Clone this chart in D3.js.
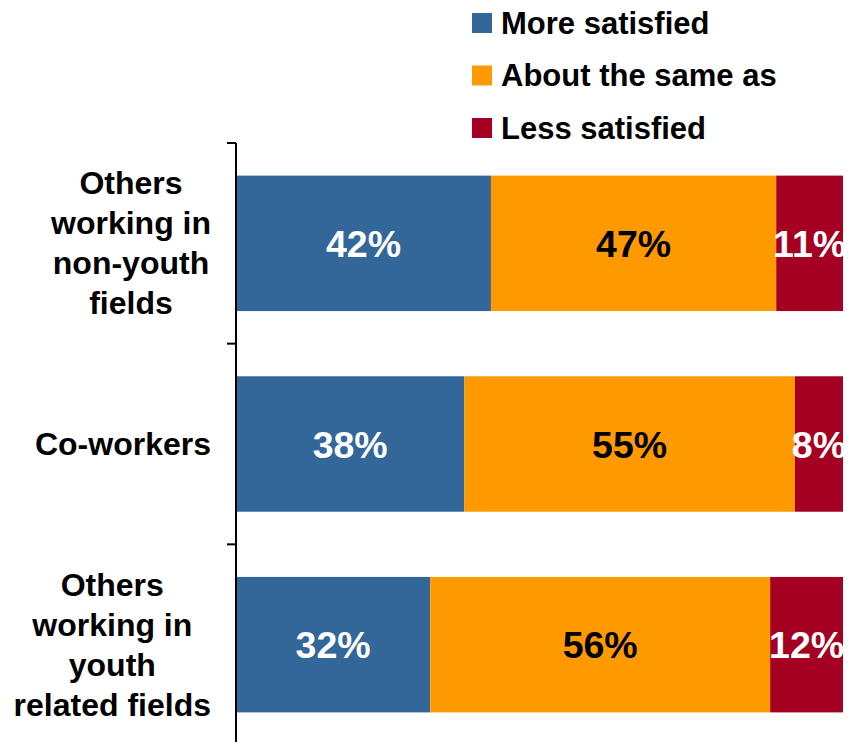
<!DOCTYPE html>
<html>
<head>
<meta charset="utf-8">
<script src="https://cdn.jsdelivr.net/npm/d3@7"></script>
<style>
  html, body { margin: 0; padding: 0; background: #fff; }
  svg { display: block; font-family: "Liberation Sans", Arial, sans-serif; font-weight: bold; }
</style>
</head>
<body>
<svg id="chart" width="853" height="742"></svg>
<script>
// Data
const categories = [
  ["Others", "working in", "non-youth", "fields"],
  ["Co-workers"],
  ["Others", "working in", "youth", "related fields"]
];
const seriesNames = ["More satisfied", "About the same as", "Less satisfied"];
const moreSatisfied = [42, 38, 32];
const aboutSame = [47, 55, 56];
const lessSatisfied = [11, 8, 12];
const colors = ["#336699", "#FF9900", "#A50021"];
const labelColors = ["#ffffff", "#000000", "#ffffff"];

(function () {
const svg = d3.select("#chart");
const W = 853, H = 742;
const mLeft = 236, mRight = 843, mTop = 143, mBottom = 745;

const rows = categories.map((c, i) => {
  const vals = [moreSatisfied[i], aboutSame[i], lessSatisfied[i]];
  const sum = d3.sum(vals);
  return { key: i, vals, sum };
});

const x = d3.scaleLinear().domain([0, 1]).range([mLeft, mRight]);
const y = d3.scaleBand().domain(rows.map(r => r.key)).range([mTop, mBottom]).paddingInner(0.325).paddingOuter(0.1625);

svg.append("defs").append("clipPath").attr("id", "plotclip")
  .append("rect").attr("x", mLeft).attr("y", 0).attr("width", mRight - mLeft).attr("height", H);

const plot = svg.append("g").attr("clip-path", "url(#plotclip)");

rows.forEach(r => {
  let cum = 0;
  r.vals.forEach((v, j) => {
    const x0 = x(cum / r.sum), x1 = x((cum + v) / r.sum);
    plot.append("rect")
      .attr("x", x0).attr("y", y(r.key))
      .attr("width", x1 - x0).attr("height", y.bandwidth())
      .attr("fill", colors[j]);
    plot.append("text")
      .attr("x", (x0 + x1) / 2)
      .attr("y", y(r.key) + y.bandwidth() / 2 + 13.5)
      .attr("text-anchor", "middle")
      .attr("font-size", 37.5)
      .attr("fill", labelColors[j])
      .text(v + "%");
    cum += v;
  });
});

// Axis
const bandStep = y.step();
const tickPos = [0, 1, 2, 3].map(i => mTop + i * bandStep);
svg.append("line").attr("x1", mLeft).attr("x2", mLeft).attr("y1", mTop).attr("y2", mBottom)
  .attr("stroke", "#000").attr("stroke-width", 2);
tickPos.forEach(t => {
  svg.append("line").attr("x1", mLeft - 9).attr("x2", mLeft).attr("y1", t).attr("y2", t)
    .attr("stroke", "#000").attr("stroke-width", 2);
});

// Category labels: block right-aligned at x=210, lines centered in block
const fs = 32, lh = 40;
rows.forEach((r, i) => {
  const lines = categories[i];
  const g = svg.append("g");
  const texts = lines.map((l, k) => g.append("text")
    .attr("font-size", fs).attr("text-anchor", "middle").attr("fill", "#000").text(l));
  const maxW = d3.max(texts, t => t.node().getComputedTextLength());
  const cx = 211 - maxW / 2;
  const cy = y(r.key) + y.bandwidth() / 2;
  const n = lines.length;
  texts.forEach((t, k) => {
    t.attr("x", cx).attr("y", cy + (k - (n - 1) / 2) * lh + fs * 0.34);
  });
});

// Legend
seriesNames.forEach((s, j) => {
  const yy = 13 + j * 52.5;
  svg.append("rect").attr("x", 472).attr("y", yy).attr("width", 20).attr("height", 20).attr("fill", colors[j]);
  svg.append("text").attr("x", 501).attr("y", yy + 20.5).attr("font-size", 31).attr("fill", "#000").text(s);
});
})();
</script>
</body>
</html>
